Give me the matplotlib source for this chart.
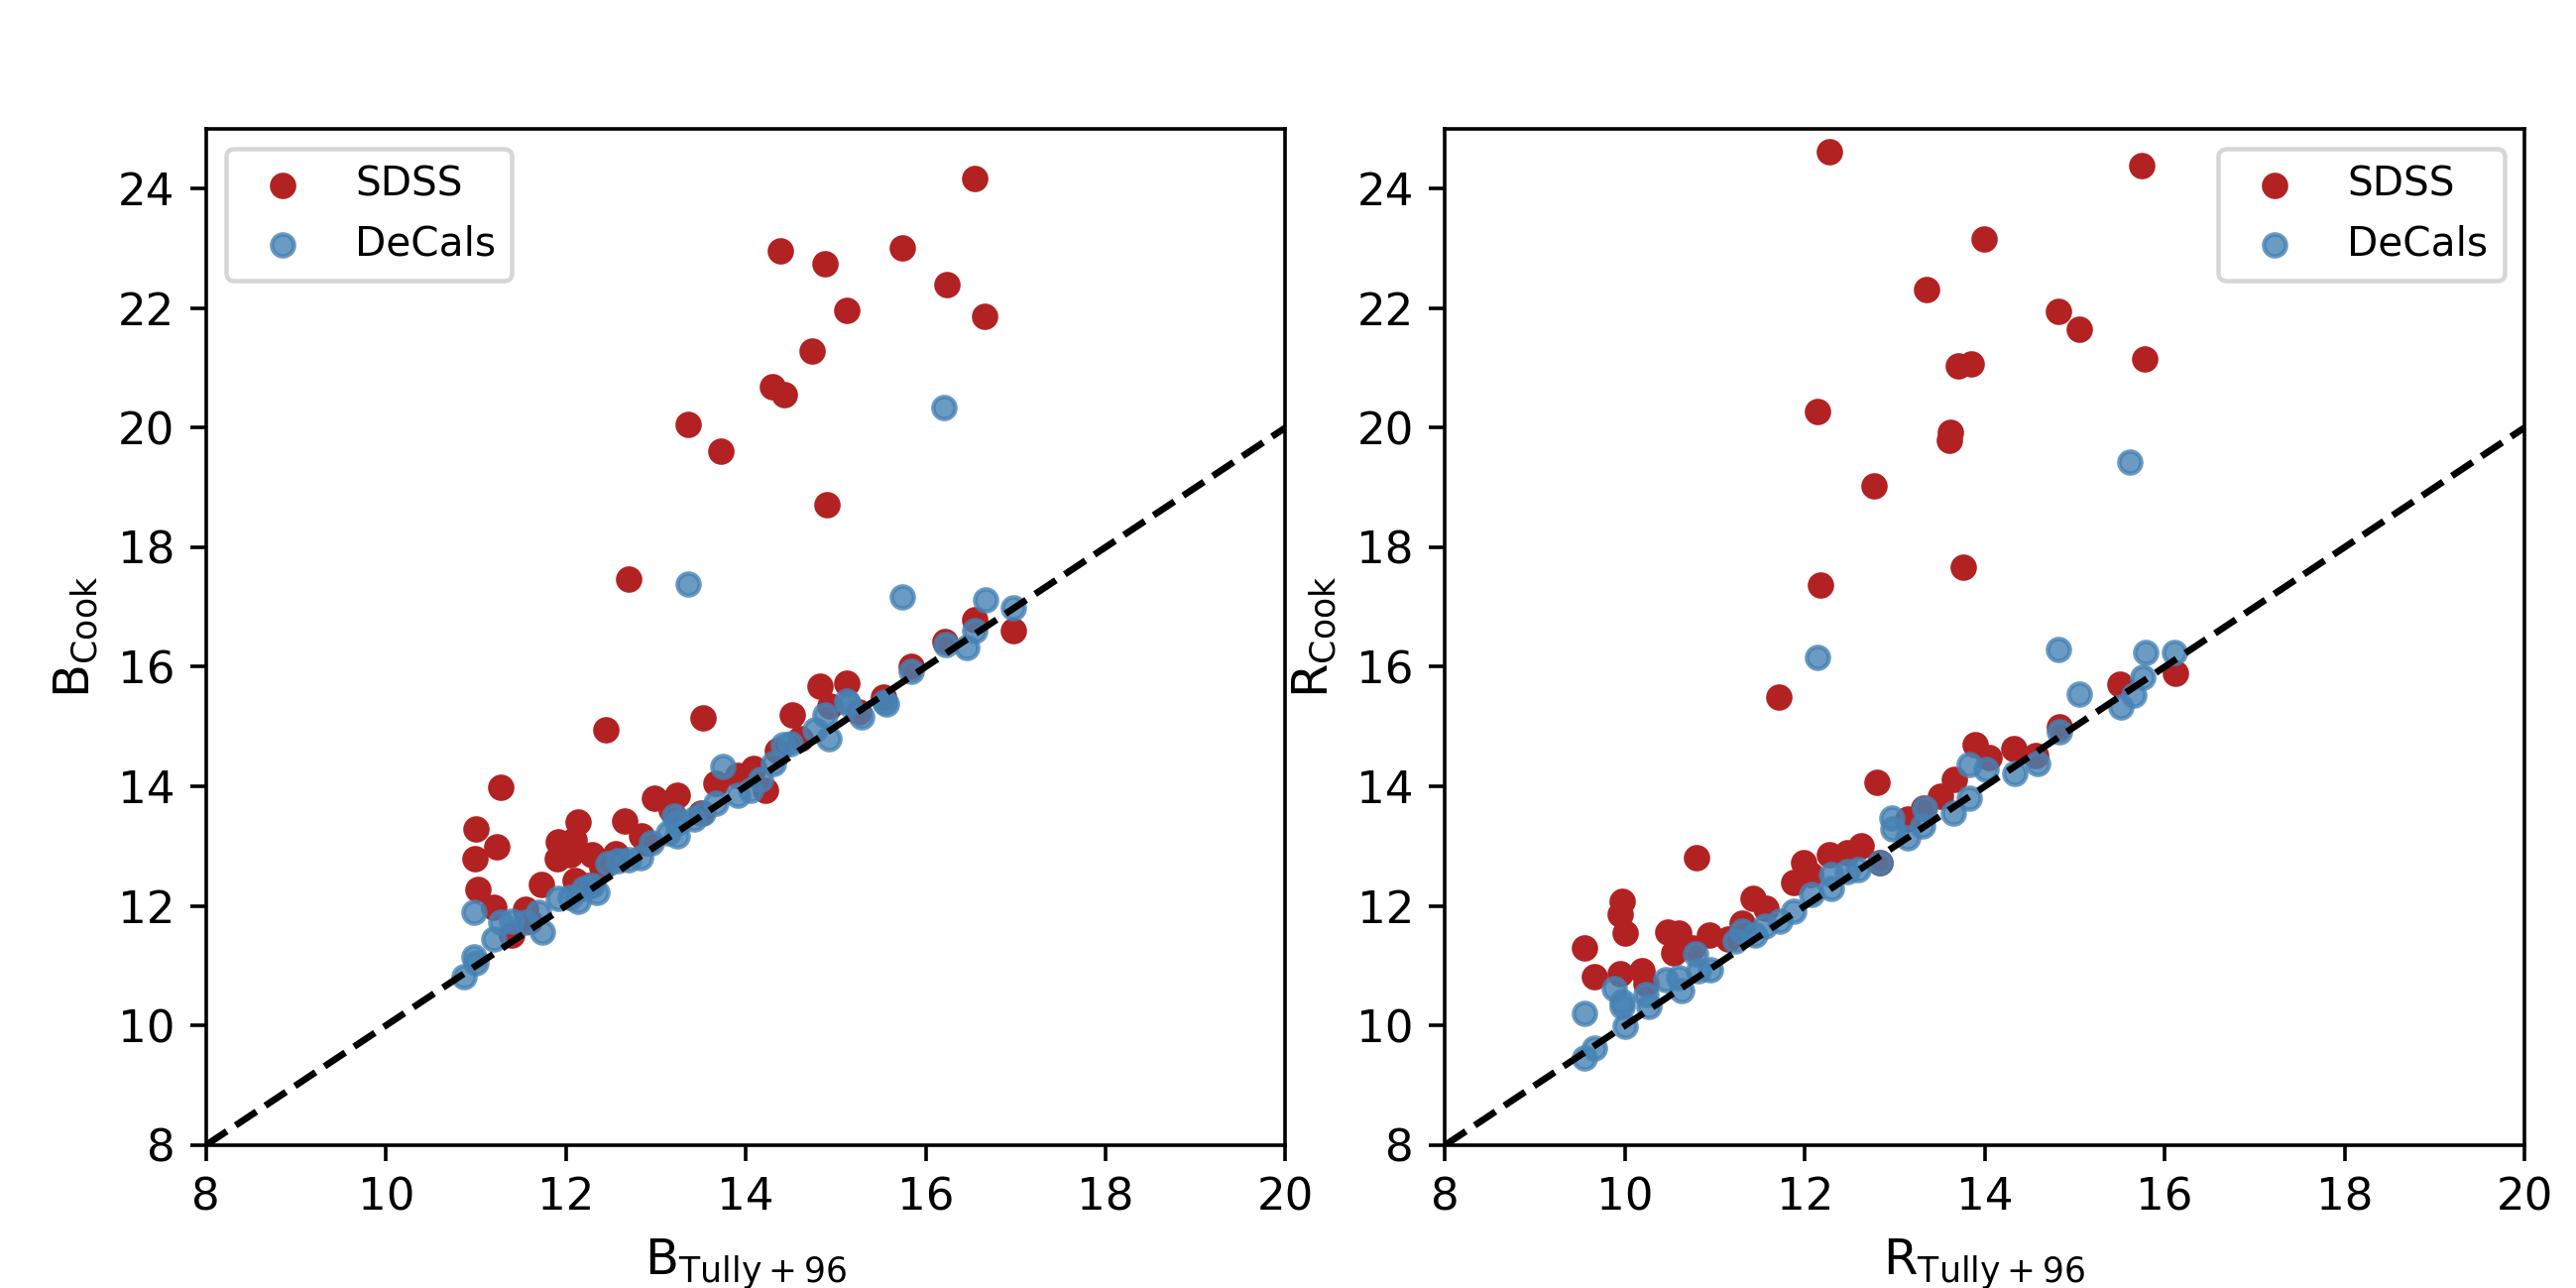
import matplotlib
matplotlib.use('Agg')
import matplotlib.pyplot as plt

# B band: Tully+96 vs Cook
b_sdss_x = [16.54, 14.38, 14.88, 15.74, 16.24, 15.12, 16.65, 14.74, 14.30, 14.43,
            13.36, 13.72, 14.90, 12.70, 12.44, 13.52, 11.28, 11.00, 11.23, 10.99,
            11.02, 11.20, 11.40, 11.55, 11.73, 12.14, 11.92, 12.09, 11.90, 12.05,
            12.29, 12.55, 12.65, 12.98, 13.24, 13.17, 12.84, 12.10, 12.40, 13.67,
            13.91, 14.09, 14.22, 14.35, 14.52, 14.83, 15.12, 14.94, 15.53, 15.84,
            16.21, 16.54, 16.98, 11.60, 12.25, 12.90, 13.50, 14.60, 15.25]
b_sdss_y = [24.17, 22.95, 22.75, 23.01, 22.39, 21.96, 21.87, 21.29, 20.69, 20.55,
            20.06, 19.60, 18.72, 17.46, 14.95, 15.15, 13.98, 13.28, 12.99, 12.79,
            12.27, 11.98, 11.51, 11.95, 12.36, 13.40, 13.07, 13.10, 12.79, 12.85,
            12.85, 12.87, 13.42, 13.80, 13.86, 13.61, 13.17, 12.43, 12.64, 14.05,
            14.19, 14.30, 13.94, 14.60, 15.20, 15.67, 15.72, 15.35, 15.50, 16.00,
            16.43, 16.79, 16.60, 11.75, 12.35, 13.05, 13.55, 14.80, 15.25]

b_decals_x = [16.20, 13.36, 15.74, 16.67, 16.98, 16.54, 16.46, 16.23, 15.84, 15.54,
              15.14, 15.29, 14.92, 14.77, 14.50, 14.31, 14.05, 13.91, 13.74, 13.67,
              13.52, 13.21, 13.24, 13.24, 13.14, 12.95, 12.83, 12.70, 12.47, 12.34,
              12.29, 12.14, 11.92, 11.74, 11.70, 11.55, 11.40, 11.28, 11.20, 11.00,
              10.98, 10.87, 10.98, 14.16, 14.42, 14.88, 15.12, 15.56, 12.58, 13.42,
              12.05, 12.20]
b_decals_y = [20.33, 17.38, 17.17, 17.12, 16.98, 16.60, 16.32, 16.38, 15.92, 15.41,
              15.38, 15.16, 14.80, 14.94, 14.72, 14.38, 13.94, 13.86, 14.33, 13.72,
              13.56, 13.50, 13.39, 13.17, 13.23, 13.06, 12.80, 12.78, 12.70, 12.23,
              12.34, 12.07, 12.12, 11.57, 11.90, 11.73, 11.75, 11.73, 11.45, 11.05,
              11.15, 10.82, 11.90, 14.11, 14.69, 15.19, 15.43, 15.38, 12.75, 13.45,
              12.15, 12.30]

# R band: Tully+96 vs Cook
r_sdss_x = [12.27, 15.74, 13.99, 13.35, 14.82, 15.05, 15.78, 13.70, 13.85, 12.14,
            13.62, 13.61, 12.77, 13.76, 12.17, 11.71, 16.12, 15.50, 14.83, 13.89,
            14.05, 14.32, 14.57, 13.66, 13.51, 13.14, 13.32, 12.80, 10.79, 9.55,
            9.66, 9.97, 9.95, 10.00, 9.95, 10.19, 10.23, 10.47, 10.60, 10.54,
            10.94, 11.42, 11.57, 11.30, 11.99, 11.88, 12.27, 12.47, 12.62, 12.83,
            12.06, 10.75, 11.15]
r_sdss_y = [24.61, 24.39, 23.16, 22.31, 21.95, 21.64, 21.15, 21.03, 21.07, 20.27,
            19.92, 19.79, 19.02, 17.66, 17.37, 15.49, 15.89, 15.71, 15.00, 14.69,
            14.48, 14.63, 14.52, 14.11, 13.84, 13.45, 13.64, 14.07, 12.80, 11.30,
            10.82, 12.08, 11.86, 11.54, 10.87, 10.91, 10.70, 11.57, 11.54, 11.21,
            11.51, 12.12, 11.96, 11.71, 12.73, 12.40, 12.86, 12.89, 13.00, 12.73,
            12.53, 11.30, 11.45]

r_decals_x = [15.61, 12.14, 14.82, 15.05, 15.79, 16.11, 15.75, 15.66, 15.51, 14.83,
              14.59, 14.33, 14.01, 13.83, 13.83, 13.65, 13.33, 13.31, 13.14, 12.97,
              12.98, 12.83, 12.59, 12.47, 12.29, 12.29, 12.07, 11.88, 11.72, 11.56,
              11.45, 11.30, 11.22, 10.95, 10.82, 10.78, 10.63, 10.60, 10.45, 10.27,
              10.23, 10.00, 9.97, 9.97, 9.88, 9.66, 9.55, 9.55]
r_decals_y = [19.42, 16.15, 16.29, 15.55, 16.24, 16.24, 15.82, 15.52, 15.33, 14.91,
              14.38, 14.22, 14.28, 14.36, 13.80, 13.56, 13.64, 13.33, 13.14, 13.47,
              13.29, 12.72, 12.61, 12.58, 12.52, 12.30, 12.19, 11.91, 11.74, 11.66,
              11.52, 11.58, 11.41, 10.94, 10.91, 11.19, 10.58, 10.80, 10.76, 10.32,
              10.52, 9.98, 10.32, 10.40, 10.61, 9.63, 9.46, 10.21]

one_to_one = [8, 20]

fig, (ax1, ax2) = plt.subplots(1, 2, figsize=(8, 4), dpi=324.75)
plt.subplots_adjust(left=0.08, right=0.98, bottom=0.111, top=0.9, wspace=0.148)

# panel B
ax1.scatter(b_sdss_x, b_sdss_y, s=24, color='firebrick', label='SDSS')
ax1.scatter(b_decals_x, b_decals_y, s=24, color='steelblue', alpha=0.8, label='DeCals')
ax1.plot(one_to_one, one_to_one, 'k--')
ax1.set_xlim(8, 20)
ax1.set_ylim(8, 25)
ax1.set_xlabel(r'$\mathrm{B_{Tully+96}}$', fontsize=11)
ax1.set_ylabel(r'$\mathrm{B_{Cook}}$', fontsize=11)
ax1.legend(loc='upper left', fontsize=9)

# panel R
ax2.scatter(r_sdss_x, r_sdss_y, s=24, color='firebrick', label='SDSS')
ax2.scatter(r_decals_x, r_decals_y, s=24, color='steelblue', alpha=0.8, label='DeCals')
ax2.plot(one_to_one, one_to_one, 'k--')
ax2.set_xlim(8, 20)
ax2.set_ylim(8, 25)
ax2.set_xlabel(r'$\mathrm{R_{Tully+96}}$', fontsize=11)
ax2.set_ylabel(r'$\mathrm{R_{Cook}}$', fontsize=11)
ax2.legend(loc='upper right', fontsize=9)

plt.savefig('out.png')
